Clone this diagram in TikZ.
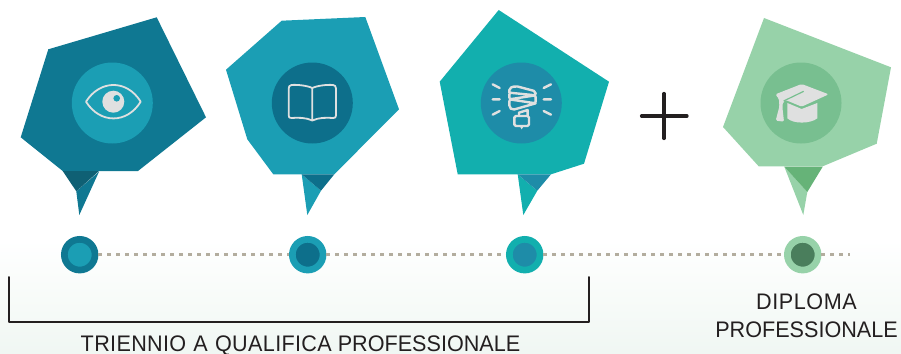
\documentclass[tikz,border=0pt]{standalone}
\usepackage{fontspec}
\setmainfont{Liberation Sans}[FakeStretch=0.96]
\usetikzlibrary{calc}
\definecolor{inkc}{HTML}{231F20}
\definecolor{iconc}{HTML}{DFE0E0}
\definecolor{tealA}{HTML}{0F7892}
\definecolor{tealB}{HTML}{1B9EB4}
\definecolor{tealAd}{HTML}{0F6074}
\definecolor{tealBd}{HTML}{0D6F8B}
\definecolor{tealC}{HTML}{12AFAE}
\definecolor{tealCd}{HTML}{1E8CA8}
\definecolor{greenA}{HTML}{97D2A9}
\definecolor{greenB}{HTML}{78BF90}
\definecolor{greenC}{HTML}{66B378}
\definecolor{greenD}{HTML}{4A7E5C}
\definecolor{dotc}{HTML}{B3AD9E}
\definecolor{bgc}{HTML}{F0F7F3}
\tikzset{
  x=1pt,y=-1pt,
  badge/.style={circle,minimum size=81pt,inner sep=0pt,fill=#1},
  pin/.style 2 args={circle,minimum size=30.7pt,inner sep=0pt,fill=#2,draw=#1,line width=6.7pt},
  dotline/.style={dotc,line width=3.3pt,dash pattern=on 3.3pt off 5.7pt},
  icon/.style={iconc,line width=1.8pt,line cap=round,line join=round},
  thickicon/.style={icon,line width=2.4pt},
  label/.style={anchor=base,inner sep=0pt,text=inkc,font=\fontsize{22.5}{24}\selectfont},
  bracket/.style={inkc,line width=2pt,line cap=round,line join=round}
}
\begin{document}
\begin{tikzpicture}
\useasboundingbox (0,0) rectangle (901,353);
\shade[top color=white,bottom color=bgc] (0,240) rectangle (901,353);
% bubble 1
\fill[tealA] (48.3,49.3)--(156.7,17.3)--(206,117.3)--(138,171)--(62.7,171)--(20.7,137.3)--cycle;
\fill[tealA] (76.3,191.3)--(99,171.7)--(79.3,215)--cycle;
\fill[tealAd] (62.7,171)--(99,171)--(76.3,191.3)--cycle;
\node[badge=tealB] (b1) at (112.3,103) {};
\draw[icon] (86,101.7) .. controls (100,79.4) and (127,79.4) .. (140.7,101.7) .. controls (127,124) and (100,124) .. cycle;
\fill[iconc] (113.3,101.7) circle[radius=11pt];
\fill[tealB] (116.7,98.3) circle[radius=3.3pt];
% bubble 2
\fill[tealB] (281.7,20.7)--(365.3,17)--(399,109.3)--(334.3,174.3)--(273.3,174.3)--(247.3,139.3)--(226,69.7)--cycle;
\fill[tealB] (301.7,174.3)--(321,190.7)--(307.3,215)--cycle;
\fill[tealBd] (301.7,174.3)--(334.3,174.3)--(321,190.7)--cycle;
\node[badge=tealBd] (b2) at (312.3,103) {};
\draw[icon] (312.3,88) .. controls (307,85.5) and (297,84.5) .. (291.5,85) .. controls (289.5,85.3) and (288.7,86.5) .. (288.7,88.5) -- (288.7,115.5) .. controls (288.7,117.5) and (289.5,118) .. (291.5,118) .. controls (298,117.5) and (306,117.5) .. (312.3,120.5) .. controls (318.6,117.5) and (326.6,117.5) .. (333,118) .. controls (335,118) and (336,117.5) .. (336,115.5) -- (336,88.5) .. controls (336,86.5) and (335,85.3) .. (333,85) .. controls (327.5,84.5) and (317.6,85.5) .. (312.3,88) -- (312.3,120.5);
% bubble 3
\fill[tealC] (498.7,10)--(609,81.7)--(584,163.7)--(551,174.3)--(457.7,174.3)--(439.7,81.7)--cycle;
\fill[tealC] (517.7,174.3)--(537.3,190.7)--(523.3,215)--cycle;
\fill[tealCd] (517.7,174.3)--(551,174.3)--(537.3,190.7)--cycle;
\node[badge=tealCd] (b3) at (521.3,103) {};
\begin{scope}[shift={(475,60)},x=.3333pt,y=-.3333pt]
  \draw[thickicon] (53,73)--(74,84) (53,118)--(74,118) (53,164)--(74,153);
  \draw[thickicon] (206,84)--(228,73) (206,118)--(228,118) (206,153)--(228,164);
  \draw[thickicon,rounded corners=2pt] (103,98)--(103,84)--(122,78)--(182,94)--(182,106)--(103,98)--(103,118)--(182,106)--(182,130)--(103,118)--(103,142)--(112,150)--(182,130);
  \draw[thickicon] (132,168)--(132,158)--(158,150)--(158,168);
  \draw[thickicon,rounded corners=1.5pt] (118,168) rectangle (162,198);
  \fill[iconc] (134,198)--(146,198)--(140,208)--cycle;
\end{scope}
% plus
\draw[inkc,line width=3.2pt,line cap=round] (664,93.5)--(664,138.5) (641.5,116)--(687,116);
% bubble 4
\fill[greenA] (764,18)--(891,67.3)--(876.7,143.7)--(822.7,166.3)--(758.7,166.3)--(723,127)--cycle;
\fill[greenA] (784.3,166.7)--(807.3,192)--(803.3,215)--cycle;
\fill[greenC] (784.3,166.7)--(822.7,166.7)--(807.3,192)--cycle;
\node[badge=greenB] (b4) at (801,103) {};
\begin{scope}[shift={(755,65)},x=.3333pt,y=-.3333pt]
  \fill[iconc,rounded corners=1.5pt] (140,57)--(221,88)--(140,125)--(92,105)--(84,112)--(82,125)--(87,170)--(62,167)--(73,125)--(72,102)--(61,88)--cycle;
  \draw[greenB,line width=1.2pt] (86,108)--(146,79);
  \fill[iconc] (97,114)--(140,132)--(187,114)--(187,160) .. controls (165,177) and (115,177) .. (97,160)--cycle;
\end{scope}
% timeline
\node[pin={tealA}{tealB}] (d1) at (79.7,254.7) {};
\node[pin={tealB}{tealBd}] (d2) at (307.7,254.7) {};
\node[pin={tealC}{tealCd}] (d3) at (524.7,254.7) {};
\node[pin={greenA}{greenD}] (d4) at (802.7,254.7) {};
\coordinate (lineend) at (850,254.7);
\draw[dotline] (d1)--(d2);
\draw[dotline] (d2)--(d3);
\draw[dotline] (d3)--(d4);
\draw[dotline] (d4)--(lineend);
% bracket
\coordinate (brA) at (9,277);
\coordinate (brB) at (9,322.3);
\coordinate (brC) at (589,322.3);
\coordinate (brD) at (589,277);
\draw[bracket] (brA)--(brB)--(brC)--(brD);
% labels
\node[label] (t1) at (300.5,351.3) {{\addfontfeature{LetterSpace=1.5}\spaceskip=7.2pt TRIENNIO A QUALIFICA} \spaceskip=7.2pt PROFESSIONALE};
\node[label] (t2) at (806.5,309) {\addfontfeature{LetterSpace=2.6}DIPLOMA};
\node[label] (t3) at (806.5,337) {PROFESSIONALE};
\end{tikzpicture}
\end{document}
